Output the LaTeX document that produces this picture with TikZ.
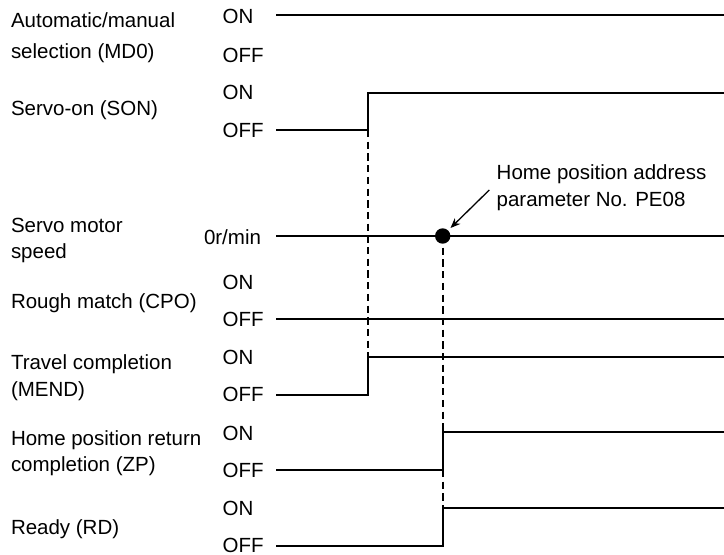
\documentclass[tikz,border=0pt]{standalone}
\usepackage{fontspec}
\setmainfont{Liberation Sans}
\usetikzlibrary{arrows.meta}
\begin{document}
\begin{tikzpicture}[x=1pt,y=-1pt,
  every node/.style={inner sep=0pt,outer sep=0pt,font=\fontsize{20.5}{24}\selectfont},
  lbl/.style={anchor=base west},
  lvl/.style={anchor=base west},
  sig/.style={line width=2pt,line join=miter},
  guide/.style={line width=1.7pt,dash pattern=on 7.3pt off 4.4pt},
  callout/.style={line width=1.3pt,-{Stealth[length=10pt,width=8pt]}}]
\useasboundingbox (0,0) rectangle (724,555);
% signal names
\node[lbl] (n1a) at (11,27.3) {Automatic/manual};
\node[lbl] (n1b) at (11,58.3) {selection (MD0)};
\node[lbl] (n2) at (11,115) {Servo-on (SON)};
\node[lbl] (n3a) at (11,232.7) {Servo motor};
\node[lbl] (n3b) at (11,258.3) {speed};
\node[lbl] (n4) at (11,308.3) {Rough match (CPO)};
\node[lbl] (n5a) at (11,369) {Travel completion};
\node[lbl] (n5b) at (11,396) {(MEND)};
\node[lbl] (n6a) at (11,445) {Home position return};
\node[lbl] (n6b) at (11,471) {completion (ZP)};
\node[lbl] (n7) at (11,534) {Ready (RD)};
% level labels
\node[lvl] (on1) at (222.7,23.3) {ON};
\node[lvl] (off1) at (222.7,62.7) {OFF};
\node[lvl] (on2) at (222.7,99.3) {ON};
\node[lvl] (off2) at (222.7,137.3) {OFF};
\node[lvl] (zero) at (204,244.3) {0r/min};
\node[lvl] (on4) at (222.7,289.3) {ON};
\node[lvl] (off4) at (222.7,326) {OFF};
\node[lvl] (on5) at (222.7,364.3) {ON};
\node[lvl] (off5) at (222.7,401.7) {OFF};
\node[lvl] (on6) at (222.7,440) {ON};
\node[lvl] (off6) at (222.7,477.7) {OFF};
\node[lvl] (on7) at (222.7,515) {ON};
\node[lvl] (off7) at (222.7,552.3) {OFF};
% note
\node[lbl] (noteA) at (496.7,179.3) {Home position address};
\node[lbl] (noteB) at (496.7,206) {parameter No. PE08};
% key coordinates
\coordinate (t1) at (367.7,130);
\coordinate (t1e) at (367.7,356.7);
\coordinate (dot) at (442.7,236);
\coordinate (t2e) at (442.7,507.7);
\coordinate (arrS) at (489.3,190);
\coordinate (arrE) at (450.5,228);
% guides
\draw[guide] (t1) -- (t1e);
\draw[guide] (dot) -- (t2e);
% signals
\draw[sig] (276,15) -- (724,15);
\draw[sig] (276,130) -- (t1) -- (367.7,92.7) -- (724,92.7);
\draw[sig] (276,236) -- (724,236);
\draw[sig] (276,319.3) -- (724,319.3);
\draw[sig] (276,395) -- (367.7,395) -- (t1e) -- (724,356.7);
\draw[sig] (276,470) -- (442.7,470) -- (442.7,432.3) -- (724,432.3);
\draw[sig] (276,545.7) -- (442.7,545.7) -- (t2e) -- (724,507.7);
\fill (dot) circle[radius=7.7pt];
\draw[callout] (arrS) -- (arrE);
\end{tikzpicture}
\end{document}
